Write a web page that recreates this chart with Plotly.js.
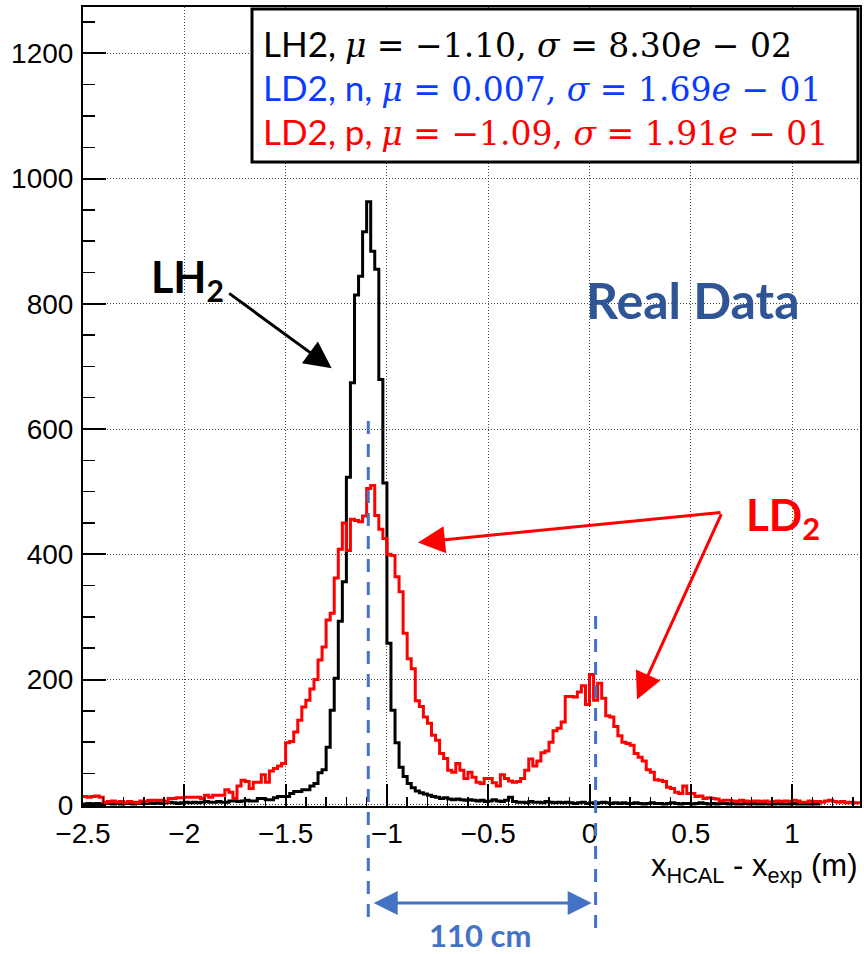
<!DOCTYPE html>
<html>
<head>
<meta charset="utf-8">
<script src="https://cdn.plot.ly/plotly-3.0.1.min.js"></script>
<style>html,body{margin:0;padding:0;background:#fff;}</style>
</head>
<body>
<div id="chart" style="width:864px;height:954px;"></div>
<script>
// ---- DATA ----
const binLow = -2.5;
const binWidth = 0.02;
const xRange = [-2.5, 1.335];
const yRange = [-2, 1274];

// LH2 histogram counts (black)
const lh2Counts = [
  1,2,1,2,1, 3,2,1,2,1, 2,2,1,3,2, 2,3,2,3,2, 3,4,3,2,3, 4,3,4,3,4,
  5,4,4,5,4,4, 6,6,5,6,7,6,6, 10,10,8,8,11,13,13,13,18,21,21,24,24,30,34,51,56,
  92,151,202,293,356,523,674,814,844,915,963,884,855,679,514,258,151,99,60,45,
  34,27,22,19,17,15,13,12,10,11,9,8,9,8,7,8,7,6,7,5,
  6,8,6,5,7,12,5,4,4,3,5,4,4,3,5,4,3,4,3,4,
  3,2,3,4,2,3,2,3,4,3,2,3,2,3,2,2,3,2,1,2,
  3,2,2,1,2,3,2,1,2,2,1,2,3,2,1,2,1,2,2,1,
  2,1,1,2,1,2,1,1,2,1,1,2,1,1,1,2,1,1,1,1,
  1,1
];
// LD2 histogram counts (red)
const ld2Counts = [
  13,12,13,14,12, 3,5,6,4,5, 3,5,4,3,6, 5,7,7,7,7, 5,10,10,11,11, 12,12,12,12,10,
  15,12,15,15,15, 24,20,10,30,39, 37,26,36,36,48, 36,54,58,62,66,
  99,101,116,135,156,167,185,200,231,252,
  295,306,362,408,450,406,456,454,452,461,
  505,510,462,440,425,400,398,364,340,274,
  233,217,166,157,140,130,111,103,82,74,
  55,52,66,55,42,52,44,36,34,42,
  42,35,30,48,42,38,36,37,42,55,
  73,62,70,83,86,100,118,122,132,173,
  173,172,180,190,160,208,167,194,170,142,
  140,125,110,100,98,95,82,76,70,56,
  52,40,39,37,28,26,20,18,30,18,
  18,13,14,10,11,10,9,6,7,7,
  6,5,7,6,5,6,6,5,6,4,
  5,6,5,6,5,7,6,4,4,6,
  5,5,4,6,7,5,4,5,3,4,
  3,3
];

// Stats text
const statsLines = [
  {label: 'LH2, ', mu: '−1.10', sigma: '8.30', exp: '02', color: '#000000'},
  {label: 'LD2, n, ', mu: '0.007', sigma: '1.69', exp: '01', color: '#0a3cff'},
  {label: 'LD2, p, ', mu: '−1.09', sigma: '1.91', exp: '01', color: '#ff0000'}
];
const peakMarks = [-1.092, 0.03];   // dashed marker positions (m)
const separationLabel = '110 cm';

// ---- BUILD ----
function stepXY(counts) {
  const xs = [], ys = [];
  for (let i = 0; i < counts.length; i++) { xs.push(binLow + i * binWidth); ys.push(counts[i]); }
  xs.push(binLow + counts.length * binWidth); ys.push(counts[counts.length - 1]);
  return {xs, ys};
}
const b = stepXY(lh2Counts), r = stepXY(ld2Counts);

const traces = [
  {x: b.xs, y: b.ys, type: 'scatter', mode: 'lines', line: {shape: 'hv', color: '#000', width: 3}, hoverinfo: 'skip'},
  {x: r.xs, y: r.ys, type: 'scatter', mode: 'lines', line: {shape: 'hv', color: '#ff0000', width: 3}, hoverinfo: 'skip'}
];

// pixel helpers for decorations (plot area 83..860 x, 7..806 y)
const L = 83, R = 860, T = 7, B = 806;
const px = v => (v - L) / (R - L);
const py = v => (B - v) / (B - T);
const xPaper = x => (x - xRange[0]) / (xRange[1] - xRange[0]);

const SANS = 'Lato, "Open Sans", sans-serif';
function statText(s) {
  const m = "<span style=\"font-family:'DejaVu Serif', serif;font-size:33px\">";
  return `${s.label}${m}<i>μ</i> = ${s.mu}, <i>σ</i> = ${s.sigma}<i>e</i> − ${s.exp}</span>`;
}

const annotations = [];
const lineY = [44, 87, 131];
statsLines.forEach((s, i) => {
  annotations.push({xref: 'paper', yref: 'paper', x: px(261), y: py(lineY[i]), xanchor: 'left', yanchor: 'middle',
    text: statText(s), showarrow: false, font: {family: SANS, size: 35, color: s.color}});
});
annotations.push({xref: 'paper', yref: 'paper', x: px(693), y: py(300), xanchor: 'center', yanchor: 'middle',
  text: '<b>Real Data</b>', showarrow: false, font: {family: SANS, size: 50, color: '#2f5597'}});
annotations.push({xref: 'paper', yref: 'paper', x: px(149), y: py(279), xanchor: 'left', yanchor: 'middle',
  text: '<b>LH<sub>2</sub></b>', showarrow: false, font: {family: SANS, size: 43, color: '#000'}});
annotations.push({xref: 'paper', yref: 'paper', x: px(744), y: py(517), xanchor: 'left', yanchor: 'middle',
  text: '<b>LD<sub>2</sub></b>', showarrow: false, font: {family: SANS, size: 44, color: '#ff0000'}});
// arrows
annotations.push({xref: 'x', yref: 'y', x: -1.2725, y: 697, ax: -104, ay: -76, text: '', showarrow: true,
  arrowhead: 2, arrowsize: 1.8, arrowwidth: 3, arrowcolor: '#000', standoff: 0});
annotations.push({xref: 'x', yref: 'y', x: -0.8465, y: 419, ax: 304, ay: -30, text: '', showarrow: true,
  arrowhead: 2, arrowsize: 1.8, arrowwidth: 3, arrowcolor: '#ff0000', standoff: 0});
annotations.push({xref: 'x', yref: 'y', x: 0.2344, y: 168, ax: 85, ay: -187, text: '', showarrow: true,
  arrowhead: 2, arrowsize: 1.8, arrowwidth: 3, arrowcolor: '#ff0000', standoff: 0});
// double arrow
annotations.push({xref: 'paper', yref: 'paper', x: xPaper(peakMarks[1]) - 0.005, y: py(903), ax: -(xPaper(peakMarks[1]) - xPaper(peakMarks[0]) - 0.01) * (R - L), ay: 0,
  text: '', showarrow: true, arrowside: 'end+start', arrowhead: 2, startarrowhead: 2, arrowsize: 1.6, startarrowsize: 1.6, arrowwidth: 3, arrowcolor: '#4472c4', standoff: 0, startstandoff: 0});
annotations.push({xref: 'paper', yref: 'paper', x: px(480), y: py(935), xanchor: 'center', yanchor: 'middle',
  text: '<b>' + separationLabel + '</b>', showarrow: false, font: {family: SANS, size: 31, color: '#4472c4'}});
// axis title
annotations.push({xref: 'paper', yref: 'paper', x: px(859), y: py(868), xanchor: 'right', yanchor: 'middle',
  text: 'x<sub>HCAL</sub> - x<sub>exp</sub> (m)', showarrow: false, font: {family: '"Liberation Sans", Arial, sans-serif', size: 31, color: '#000'}});

const shapes = [
  {type: 'rect', xref: 'paper', yref: 'paper', x0: px(252), x1: px(858), y0: py(162), y1: py(9),
    line: {color: '#000', width: 3}, fillcolor: '#fff', layer: 'above'},
  {type: 'line', xref: 'paper', yref: 'paper', x0: xPaper(peakMarks[0]), x1: xPaper(peakMarks[0]), y0: py(917), y1: py(421),
    line: {color: '#4472c4', width: 3, dash: '13px,10px'}, layer: 'above'},
  {type: 'line', xref: 'paper', yref: 'paper', x0: xPaper(peakMarks[1]), x1: xPaper(peakMarks[1]), y0: py(928), y1: py(612),
    line: {color: '#4472c4', width: 3, dash: '13px,10px'}, layer: 'above'}
];

const tickFont = {family: '"Liberation Sans", Arial, sans-serif', size: 28, color: '#000'};
const layout = {
  width: 864, height: 954,
  margin: {l: L, r: 864 - R, t: T, b: 954 - B, pad: 0},
  paper_bgcolor: '#fff', plot_bgcolor: '#fff', showlegend: false,
  xaxis: {range: xRange, tick0: -2.5, dtick: 0.5, ticks: 'inside', ticklen: 22, tickwidth: 2, tickcolor: '#000',
    showline: true, linewidth: 2, linecolor: '#000', mirror: true, zeroline: false,
    showgrid: true, gridcolor: '#444', gridwidth: 1, griddash: '1px,2px',
    minor: {dtick: 0.1, ticks: 'inside', ticklen: 9, tickwidth: 1.5, tickcolor: '#000', showgrid: false},
    tickfont: tickFont, ticklabelstandoff: 1, fixedrange: true},
  yaxis: {range: yRange, tick0: 0, dtick: 200, ticks: 'inside', ticklen: 23, tickwidth: 2, tickcolor: '#000',
    showline: true, linewidth: 2, linecolor: '#000', mirror: true, zeroline: false,
    showgrid: true, gridcolor: '#444', gridwidth: 1, griddash: '1px,2px',
    minor: {dtick: 50, ticks: 'inside', ticklen: 12, tickwidth: 1.5, tickcolor: '#000', showgrid: false},
    tickfont: tickFont, ticklabelstandoff: 2, fixedrange: true},
  annotations, shapes
};
Plotly.newPlot('chart', traces, layout, {displayModeBar: false, staticPlot: true});
</script>
</body>
</html>
